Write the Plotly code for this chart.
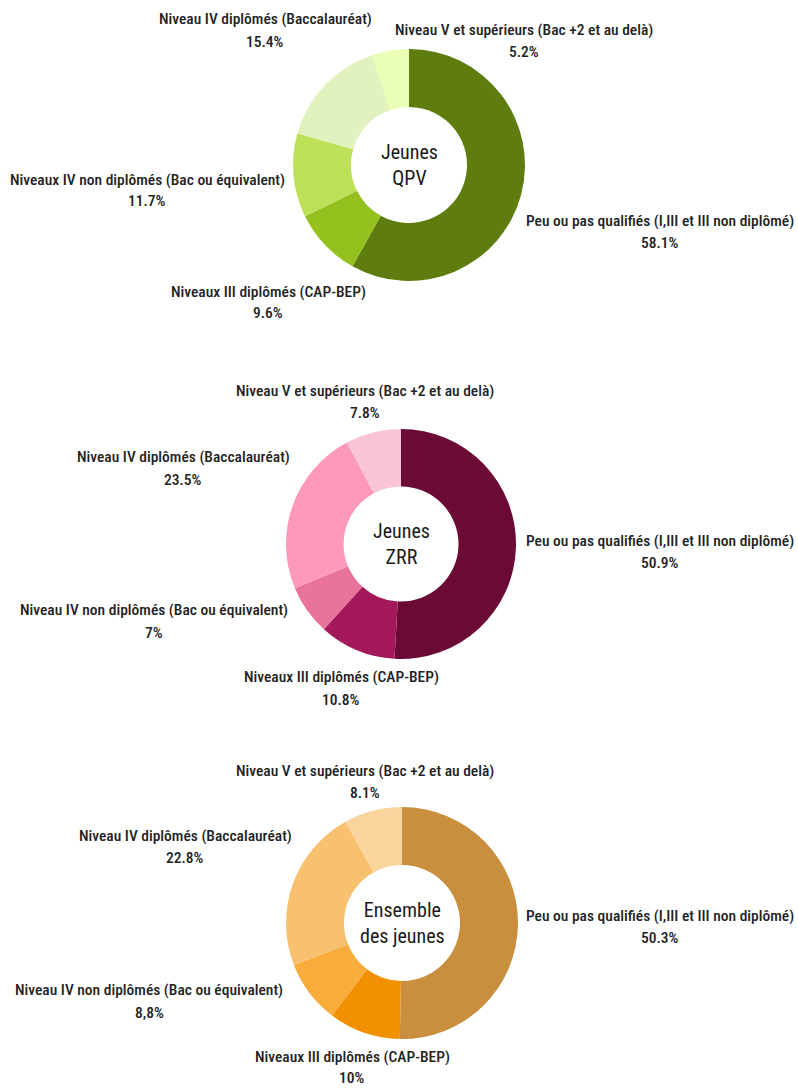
import plotly.graph_objects as go

# ---------------- data ----------------
qpv_categories = [
    "Peu ou pas qualifiés (I,III et III non diplômé)",
    "Niveaux III diplômés (CAP-BEP)",
    "Niveaux IV non diplômés (Bac ou équivalent)",
    "Niveau IV diplômés (Baccalauréat)",
    "Niveau V et supérieurs (Bac +2 et au delà)",
]
qpv_values = [58.1, 9.6, 11.7, 15.4, 5.2]
qpv_value_labels = ["58.1%", "9.6%", "11.7%", "15.4%", "5.2%"]

zrr_categories = [
    "Peu ou pas qualifiés (I,III et III non diplômé)",
    "Niveaux III diplômés (CAP-BEP)",
    "Niveau IV non diplômés (Bac ou équivalent)",
    "Niveau IV diplômés (Baccalauréat)",
    "Niveau V et supérieurs (Bac +2 et au delà)",
]
zrr_values = [50.9, 10.8, 7.0, 23.5, 7.8]
zrr_value_labels = ["50.9%", "10.8%", "7%", "23.5%", "7.8%"]

ens_categories = [
    "Peu ou pas qualifiés (I,III et III non diplômé)",
    "Niveaux III diplômés (CAP-BEP)",
    "Niveau IV non diplômés (Bac ou équivalent)",
    "Niveau IV diplômés (Baccalauréat)",
    "Niveau V et supérieurs (Bac +2 et au delà)",
]
ens_values = [50.3, 10.0, 8.8, 22.8, 8.1]
ens_value_labels = ["50.3%", "10%", "8,8%", "22.8%", "8.1%"]

center_titles = ["Jeunes<br>QPV", "Jeunes<br>ZRR", "Ensemble<br>des jeunes"]

# ---------------- styles ----------------
qpv_colors = ["#5E7D0E", "#95C11F", "#BCE158", "#E2F2BE", "#EAFFB5"]
zrr_colors = ["#6A0A35", "#A3195B", "#EA739A", "#FF99BB", "#FAC4D8"]
ens_colors = ["#C98F3F", "#F29100", "#F7AC3C", "#F7C16F", "#FAD49D"]

W, H = 798, 1088

# donut centre (px) and radius (px)
donut_geom = [(409, 165, 116), (401, 544, 115), (402, 923, 116)]

# label layout (px): centre x, y of name line, y of value line
label_pos = [
    [(660, 221, 243), (268, 292, 313), (147, 180, 201), (265, 19, 42), (524, 30, 52)],
    [(660, 541, 563), (341, 677, 700), (154, 610, 633), (183, 457, 480), (365, 391, 413)],
    [(660, 916, 938), (352, 1057, 1078), (149, 990, 1013), (185, 836, 858), (365, 771, 793)],
]

FONT = "Roboto Condensed"
TXT = "#222222"

charts = [
    (qpv_categories, qpv_values, qpv_value_labels, qpv_colors),
    (zrr_categories, zrr_values, zrr_value_labels, zrr_colors),
    (ens_categories, ens_values, ens_value_labels, ens_colors),
]

fig = go.Figure()
annotations = []

def px_x(x):
    return x / W

def px_y(y):
    return 1 - y / H

for i, (cats, vals, vlabels, cols) in enumerate(charts):
    cx, cy, r = donut_geom[i]
    fig.add_trace(go.Pie(
        labels=cats, values=vals,
        sort=False, direction="clockwise", rotation=0,
        hole=0.5,
        marker=dict(colors=cols, line=dict(width=0)),
        textinfo="none",
        domain=dict(x=[px_x(cx - r), px_x(cx + r)], y=[px_y(cy + r), px_y(cy - r)]),
        showlegend=False,
        hovertemplate="%{label}<br>%{value}%<extra></extra>",
    ))
    annotations.append(dict(
        x=px_x(cx), y=px_y(cy), xref="paper", yref="paper",
        text=center_titles[i], showarrow=False,
        font=dict(family=FONT, size=20, color="#1a1a1a"),
        xanchor="center", yanchor="middle",
    ))
    for cat, vl, (lx, ly1, ly2) in zip(cats, vlabels, label_pos[i]):
        annotations.append(dict(
            x=px_x(lx), y=px_y(ly1), xref="paper", yref="paper",
            text=cat, showarrow=False,
            font=dict(family=FONT, size=15.5, color=TXT, weight=500),
            xanchor="center", yanchor="middle",
        ))
        annotations.append(dict(
            x=px_x(lx), y=px_y(ly2), xref="paper", yref="paper",
            text=vl, showarrow=False,
            font=dict(family=FONT, size=15.5, color=TXT, weight=500),
            xanchor="center", yanchor="middle",
        ))

fig.update_layout(
    width=W, height=H, autosize=False,
    margin=dict(l=0, r=0, t=0, b=0),
    paper_bgcolor="white", plot_bgcolor="white",
    annotations=annotations,
)

fig.write_html(
    "out.html",
    config={"displayModeBar": False},
    post_script="document.body.style.margin='0';document.body.style.overflow='hidden';",
)
